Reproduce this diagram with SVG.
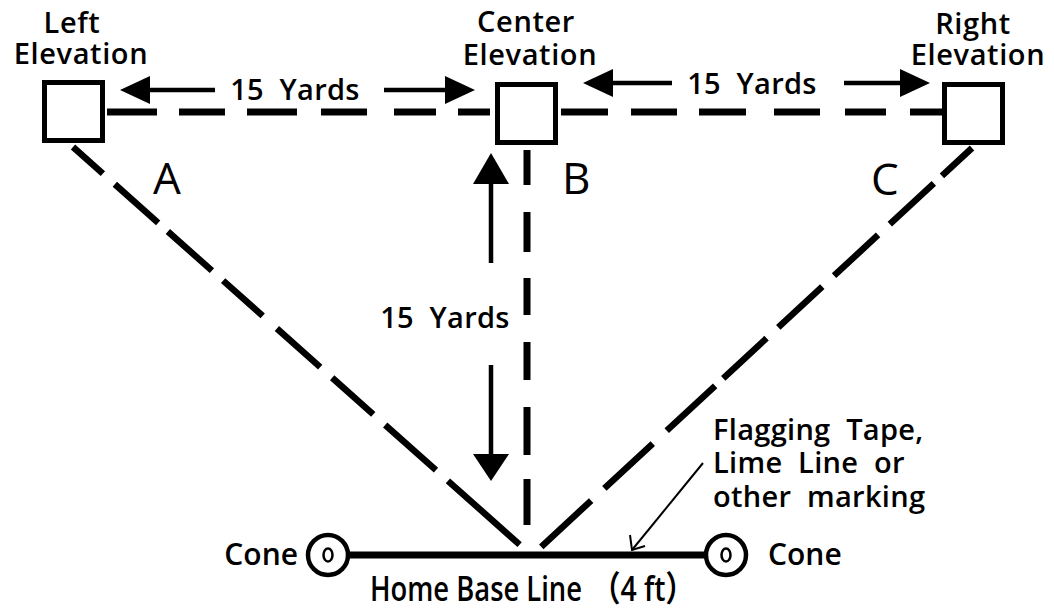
<svg xmlns="http://www.w3.org/2000/svg" width="1054" height="611" viewBox="0 0 1054 611">
<style>
text{font-family:"Open Sans","DejaVu Sans",sans-serif;fill:#000;font-weight:600;white-space:pre}
.t28{font-size:29px;letter-spacing:0.6px;text-anchor:middle}
.t30{font-size:29px;letter-spacing:0.3px}
.big{font-size:44px;font-weight:500}
.box{fill:#fff;stroke:#000;stroke-width:5}
.dash{fill:none;stroke:#000;stroke-width:7}
.diag{fill:none;stroke:#000;stroke-width:6.5}
.arr{fill:none;stroke:#000;stroke-width:4.5}
.head{fill:#000;stroke:none}
.cone{fill:#fff;stroke:#000;stroke-width:4.5}
.coneIn{fill:#fff;stroke:#000;stroke-width:2.5}
</style>
<rect width="1054" height="611" fill="#fff"/>

<g id="connectors">
  <path class="dash" d="M107,112H157M179,112H225M247,112H297M321,112H367M394,112H436M458,112H490"/>
  <path class="dash" d="M561,112H608M631,112H677M699,112H746M774,112H820M845,112H886M910,112H942"/>
  <path class="dash" d="M527,150V185M527,212V252M527,278V315M527,342V380M527,407V455M527,479V525"/>
  <path class="diag" d="M73,147L520,545" stroke-dasharray="40 16 58 13 59 15 53 19 58 16 55 16 68 16 96 10"/>
  <path class="diag" d="M972,148L541,547" stroke-dasharray="41 11 60 16 60 16 60 16 59 11 66 19 66 18 68 10"/>
  <path id="home-base-line" d="M349,555H706" fill="none" stroke="#000" stroke-width="7"/>
  <g id="dim-left-center">
    <path class="arr" d="M148,90H215M384,90H447"/>
    <polygon class="head" points="120,90 150,76 150,104"/>
    <polygon class="head" points="475,90 445,76 445,104"/>
  </g>
  <g id="dim-center-right">
    <path class="arr" d="M612,83H672M844,83H902"/>
    <polygon class="head" points="583,83 613,69 613,97"/>
    <polygon class="head" points="930,83 900,69 900,97"/>
  </g>
  <g id="dim-vertical">
    <path class="arr" d="M491,182V263M491,365V456"/>
    <polygon class="head" points="491,153 473,184 509,184"/>
    <polygon class="head" points="491,481 473,454 509,454"/>
  </g>
  <g id="tape-pointer">
    <path d="M703,463L632,550" fill="none" stroke="#000" stroke-width="2"/>
    <path d="M630,535L632,550L645,546" fill="none" stroke="#000" stroke-width="2"/>
  </g>
</g>

<g id="left-elevation">
  <rect class="box" x="44.5" y="82.5" width="58" height="58"/>
  <text class="t28" x="72" y="33">Left</text>
  <text class="t28" x="81" y="64">Elevation</text>
</g>
<g id="center-elevation">
  <rect class="box" x="497.5" y="84.5" width="58" height="58"/>
  <text class="t28" x="526" y="32">Center</text>
  <text class="t28" x="530" y="65">Elevation</text>
</g>
<g id="right-elevation">
  <rect class="box" x="944.5" y="84.5" width="58" height="58"/>
  <text class="t28" x="973" y="34">Right</text>
  <text class="t28" x="978" y="65">Elevation</text>
</g>

<g id="cone-left">
  <circle class="cone" cx="328" cy="555" r="20"/>
  <ellipse class="coneIn" cx="328" cy="555" rx="4.5" ry="6.5"/>
  <text x="298" y="565" font-size="30" text-anchor="end">Cone</text>
</g>
<g id="cone-right">
  <circle class="cone" cx="726" cy="555" r="20"/>
  <ellipse class="coneIn" cx="726" cy="555" rx="4.5" ry="6.5"/>
  <text x="768" y="565" font-size="30">Cone</text>
</g>

<g id="labels">
  <text class="t30" x="295" y="100" text-anchor="middle">15  Yards</text>
  <text class="t30" x="752" y="94" text-anchor="middle">15  Yards</text>
  <text class="t30" x="445" y="328" text-anchor="middle">15  Yards</text>
  <text class="big" x="153" y="194">A</text>
  <text class="big" x="562" y="194">B</text>
  <text class="big" x="871" y="195">C</text>
  <text class="t30" x="713" y="440">Flagging  Tape,</text>
  <text class="t30" x="713" y="473">Lime  Line  or</text>
  <text class="t30" x="713" y="507">other  marking</text>
  <text font-size="35" y="601" style="font-family:'Open Sans','Noto Sans CJK JP',sans-serif"><tspan x="370" textLength="212" lengthAdjust="spacingAndGlyphs">Home Base Line</tspan><tspan x="592" textLength="102" lengthAdjust="spacingAndGlyphs">（4 ft）</tspan></text>
</g>
</svg>
